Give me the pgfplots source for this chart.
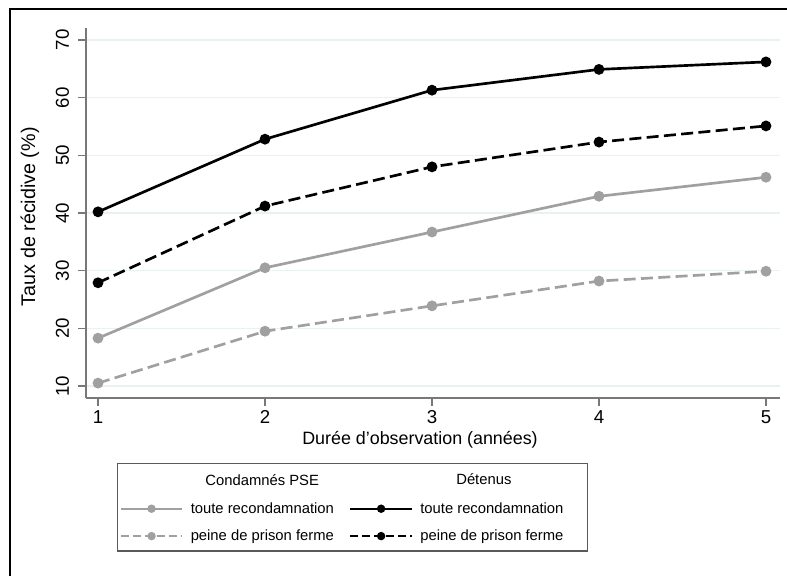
\documentclass[border=0pt]{standalone}
\usepackage{fontspec}
\setmainfont{Liberation Sans}
\usepackage{pgfplots}
\pgfplotsset{compat=1.18}
\definecolor{gridc}{RGB}{234,241,243}
\definecolor{psec}{RGB}{160,160,160}
\definecolor{axc}{RGB}{120,120,120}
\definecolor{legc}{RGB}{90,90,90}

\pgfplotstableread{
x  dts  dpf  pts  ppf
1  40.2 27.9 18.3 10.5
2  52.8 41.2 30.5 19.5
3  61.3 48.0 36.7 23.9
4  64.9 52.3 42.9 28.2
5  66.2 55.1 46.2 29.9
}\data

\begin{document}
\begin{tikzpicture}
\useasboundingbox (0,0) rectangle (590.25pt,431.25pt);
\draw[line width=2.2pt] (7.5pt,-2pt) -- (7.5pt,424.5pt) -- (592pt,424.5pt);
\begin{axis}[
  at={(64.5pt,132.75pt)}, anchor=south west,
  scale only axis, width=520.5pt, height=277.5pt,
  xmin=0.928, xmax=5.084, ymin=7.92, ymax=72.08,
  axis x line*=bottom, axis y line*=left,
  axis line style={axc, line width=1.1pt},
  xtick={1,2,3,4,5}, ytick={10,20,30,40,50,60,70},
  tick align=outside, major tick length=6pt,
  tick style={axc, line width=0.9pt},
  ymajorgrids, grid style={gridc, line width=1.2pt},
  /pgf/number format/assume math mode=true,
  ticklabel style={font=\fontsize{14}{16}\selectfont},
  yticklabel style={rotate=90, anchor=south, inner sep=6.5pt},
  xticklabel style={inner sep=3pt},
  xlabel={Durée d'observation (années)},
  ylabel={Taux de récidive (\%)},
  xlabel style={font=\fontsize{13.4}{15}\selectfont, at={(axis description cs:0.4813,0)}, anchor=center, yshift=-31.5pt},
  ylabel style={font=\fontsize{14.8}{16}\selectfont, at={(axis description cs:-0.0807,0.49)}, anchor=center},
  legend columns=2,
  legend style={at={(axis description cs:0.0447,-0.1757)}, anchor=north west,
    draw=legc, line width=1pt, inner xsep=1.5pt, inner ysep=4.5pt,
    font=\fontsize{11.1}{13}\selectfont,
    /tikz/every odd column/.append style={column sep=3.5pt},
    /tikz/every even column/.append style={column sep=9.5pt},
    row sep=7pt},
  legend cell align=left,
  legend image code/.code={\draw[mark repeat=2,mark phase=2] plot coordinates {(0pt,0pt) (23pt,0pt) (46pt,0pt)};},
]
\addplot[psec, line width=2pt, mark=*, mark size=3pt, forget plot] table[x=x,y=pts] {\data};
\addplot[psec, line width=2pt, dash pattern=on 9pt off 4pt, mark=*, mark size=3pt, mark options={solid}, forget plot] table[x=x,y=ppf] {\data};
\addplot[black, line width=2pt, mark=*, mark size=3pt, forget plot] table[x=x,y=dts] {\data};
\addplot[black, line width=2pt, dash pattern=on 9pt off 4pt, mark=*, mark size=3pt, mark options={solid}, forget plot] table[x=x,y=dpf] {\data};

\addlegendimage{empty legend}
\addlegendentry{\hspace*{11pt}Condamnés PSE\rule[-8.5pt]{0pt}{18.5pt}}
\addlegendimage{empty legend}
\addlegendentry{\makebox[122pt][l]{\hspace*{27pt}Détenus}}
\addlegendimage{psec, line width=1.8pt, mark=*, mark size=2.2pt}
\addlegendentry{toute recondamnation}
\addlegendimage{black, line width=1.8pt, mark=*, mark size=2.2pt}
\addlegendentry{toute recondamnation}
\addlegendimage{psec, line width=1.8pt, dash pattern=on 6pt off 3pt, mark=*, mark size=2.2pt, mark options={solid}}
\addlegendentry{peine de prison ferme}
\addlegendimage{black, line width=1.8pt, dash pattern=on 6pt off 3pt, mark=*, mark size=2.2pt, mark options={solid}}
\addlegendentry{peine de prison ferme}
\end{axis}
\end{tikzpicture}
\end{document}
